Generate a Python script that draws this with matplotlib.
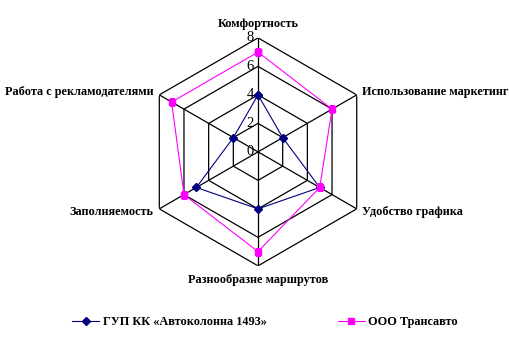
import numpy as np
import matplotlib.pyplot as plt

categories = ['Комфортность', 'Использование маркетинга', 'Удобство графика',
              'Разнообразне маршрутов', 'Заполняемость', 'Работа с рекламодателями']
gup = [4, 2, 5, 4, 5, 2]
trans = [7, 6, 5, 7, 6, 7]
ticks = [0, 2, 4, 6, 8]

plt.rcParams['font.family'] = ['Liberation Serif', 'DejaVu Serif']

fig = plt.figure(figsize=(5.1, 3.54), dpi=100)
ax = fig.add_axes([0.2824, 0.249, 0.447, 0.644], projection='polar')
ax.set_theta_zero_location('N')
ax.set_theta_direction(-1)

n = len(categories)
theta = np.arange(n) * 2 * np.pi / n
closed = np.append(theta, theta[0])

# hexagonal grid
for t in ticks[1:]:
    ax.plot(closed, [t] * (n + 1), color='black', lw=0.9, zorder=1)
for th in theta:
    ax.plot([th, th], [0, 8], color='black', lw=0.9, zorder=1)

l1, = ax.plot(closed, gup + gup[:1], color='#000080', lw=0.8, marker='D',
              ms=3.6, label='ГУП КК «Автоколонна 1493»', zorder=2)
l2, = ax.plot(closed, trans + trans[:1], color='#FF00FF', lw=0.8, marker='s',
              ms=4.6, label='ООО Трансавто', zorder=3)

ax.set_ylim(0, 8)
ax.grid(False)
ax.spines['polar'].set_visible(False)
ax.set_xticks([])
ax.set_yticks([])
ax.patch.set_alpha(0)

for t in ticks:
    ax.annotate(str(t), xy=(0, t), xytext=(-3, 0), textcoords='offset points',
                ha='right', va='center', fontsize=10.5)

fs = 8.8
fw = 'bold'
ax.annotate(categories[0], xy=(theta[0], 8), xytext=(0, 6), textcoords='offset points',
            ha='center', va='bottom', fontsize=fs, fontweight=fw)
ax.annotate(categories[1], xy=(theta[1], 8), xytext=(4, 2), textcoords='offset points',
            ha='left', va='center', fontsize=fs, fontweight=fw)
ax.annotate(categories[2], xy=(theta[2], 8), xytext=(4, -2), textcoords='offset points',
            ha='left', va='center', fontsize=fs, fontweight=fw)
ax.annotate(categories[3], xy=(theta[3], 8), xytext=(0, -6), textcoords='offset points',
            ha='center', va='top', fontsize=fs, fontweight=fw)
ax.annotate(categories[4], xy=(theta[4], 8), xytext=(-4, -2), textcoords='offset points',
            ha='right', va='center', fontsize=fs, fontweight=fw)
ax.annotate(categories[5], xy=(theta[5], 8), xytext=(-4, 2), textcoords='offset points',
            ha='right', va='center', fontsize=fs, fontweight=fw)

fig.legend(handles=[l1, l2], loc='center', bbox_to_anchor=(0.52, 0.09), ncol=2,
           frameon=False, prop={'size': fs, 'weight': fw}, handlelength=2.2,
           handletextpad=0.3, columnspacing=5.8)

fig.savefig('out.png', dpi=100)
